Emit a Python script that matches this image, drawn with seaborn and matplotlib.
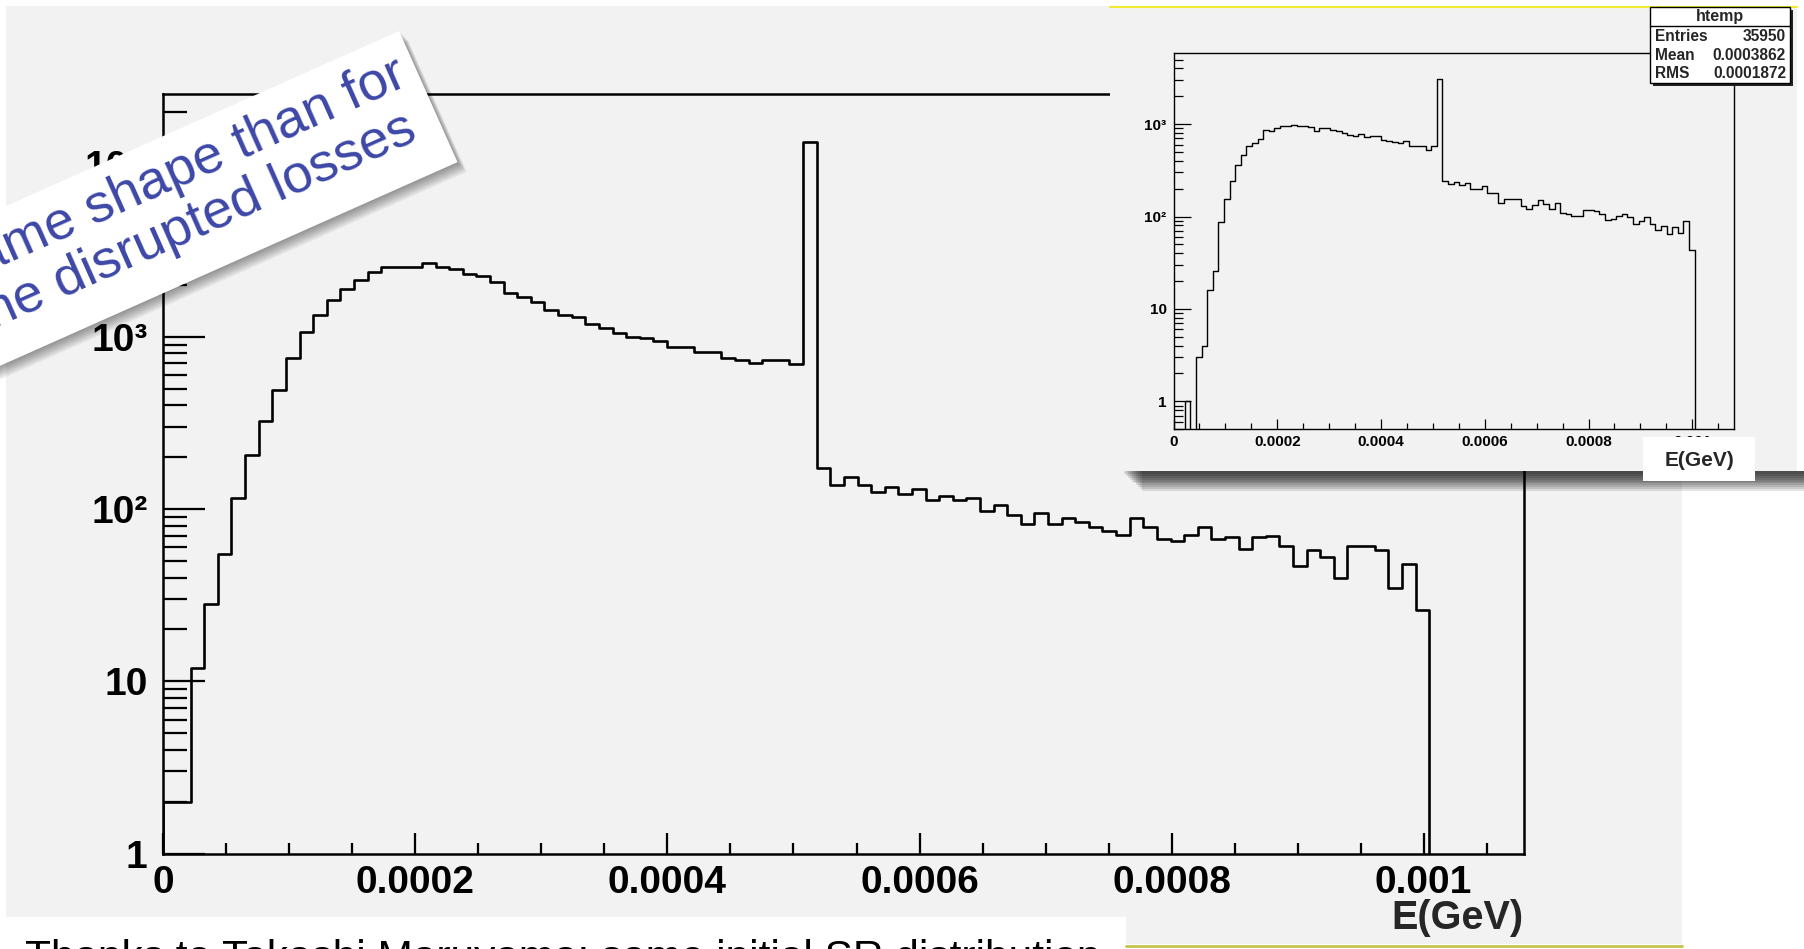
import numpy as np
import pandas as pd
import matplotlib
matplotlib.use("Agg")
import matplotlib.pyplot as plt
import seaborn as sns
from matplotlib.patches import Rectangle, Polygon
from matplotlib.lines import Line2D
from matplotlib.ticker import MultipleLocator, LogLocator, NullFormatter

# ---------------- data ----------------
bin_width = 1.08e-5          # GeV per bin (100 bins from 0 to 0.00108)
n_bins = 100

main_counts = [
    2, 2, 12, 28, 55, 116, 205, 326, 490, 751,
    1060, 1340, 1640, 1900, 2140, 2376, 2547, 2547, 2547, 2676,
    2530, 2460, 2310, 2240, 2070, 1790, 1690, 1597, 1420, 1340,
    1298, 1186, 1119, 1057, 1002, 980, 949, 869, 869, 820,
    820, 757, 733, 707, 733, 733, 695, 13400, 172, 137,
    154, 137, 126, 134, 122, 130, 113, 119, 113, 116,
    97, 106, 92, 82, 95, 82, 89, 84, 79, 75,
    71, 89, 79, 67, 65, 71, 79, 67, 69, 59,
    69, 70, 61, 47, 58, 53, 40, 61, 61, 58,
    35, 48, 26,
]

inset_counts = [
    0, 0, 1, 0, 3, 4, 16, 26, 88, 156,
    240, 365, 464, 575, 620, 690, 861, 834, 898, 944,
    944, 984, 944, 955, 920, 848, 905, 905, 861, 834,
    795, 768, 743, 774, 731, 743, 743, 673, 662, 635,
    620, 662, 575, 575, 575, 530, 575, 3050, 240, 226,
    236, 217, 231, 200, 200, 214, 180, 180, 140, 156,
    156, 156, 130, 122, 132, 150, 136, 122, 140, 110,
    107, 101, 101, 119, 117, 115, 107, 91, 95, 101,
    106, 99, 84, 90, 99, 84, 71, 79, 65, 77,
    66, 89, 43,
]

x_ticks = [0, 0.0002, 0.0004, 0.0006, 0.0008, 0.001]
x_tick_labels = ["0", "0.0002", "0.0004", "0.0006", "0.0008", "0.001"]
main_y_ticks = [1, 10, 100, 1000, 10000]
main_y_labels = ["1", "10", "10\u00b2", "10\u00b3", "10\u2074"]
inset_y_ticks = [1, 10, 100, 1000]
inset_y_labels = ["1", "10", "10\u00b2", "10\u00b3"]
x_title = "E(GeV)"
stats_title = "htemp"
stats_names = ["Entries", "Mean", "RMS"]
stats_values = ["35950", "0.0003862", "0.0001872"]
callout_lines = ["Same shape than for", "the disrupted losses"]
footer_text = "Thanks to Takashi Maruyama: same initial SR distribution"

# ---------------- style ----------------
sns.set_style("white")
plt.rcParams["font.family"] = ["Liberation Sans", "DejaVu Sans"]

W, H = 1804, 949
fig = plt.figure(figsize=(W / 100, H / 100), dpi=100)
fig.patch.set_facecolor("white")


def px_rect(x0, y0, x1, y1, **kw):
    r = Rectangle((x0 / W, 1 - y1 / H), (x1 - x0) / W, (y1 - y0) / H,
                  transform=fig.transFigure, **kw)
    fig.add_artist(r)
    return r


def px_line(xs, ys, **kw):
    ln = Line2D([x / W for x in xs], [1 - y / H for y in ys],
                transform=fig.transFigure, **kw)
    fig.add_artist(ln)
    return ln


def ax_rect(x0, y0, x1, y1):
    return [x0 / W, 1 - y1 / H, (x1 - x0) / W, (y1 - y0) / H]


def step_frame(counts, floor):
    c = np.asarray(counts, dtype=float)
    edges = np.arange(len(c) + 1) * bin_width
    xs = np.concatenate([[0.0], edges, [edges[-1]]])
    ys = np.concatenate([[0.0], c, [c[-1]], [0.0]])
    ys = np.where(ys > 0, ys, floor)
    return pd.DataFrame({"E": xs, "N": ys})


def style_axis(a, lw, xmaj, xmin, ymaj, ymin, xpad, ypad, fs):
    a.tick_params(axis="x", which="major", direction="in", length=xmaj,
                  width=lw * 0.9, pad=xpad, labelsize=fs, bottom=True)
    a.tick_params(axis="x", which="minor", direction="in", length=xmin,
                  width=lw * 0.9, bottom=True)
    a.tick_params(axis="y", which="major", direction="in", length=ymaj,
                  width=lw * 0.9, pad=ypad, labelsize=fs, left=True)
    a.tick_params(axis="y", which="minor", direction="in", length=ymin,
                  width=lw * 0.9, left=True)
    a.tick_params(which="both", top=False, right=False, colors="black")
    for lab in a.get_xticklabels() + a.get_yticklabels():
        lab.set_fontweight("bold")
    a.set_xlabel("")
    a.set_ylabel("")
    for s in a.spines.values():
        s.set_visible(True)
        s.set_linewidth(lw)
        s.set_color("black")


# ---------------- main canvas ----------------
px_rect(6, 6, 1682, 944, facecolor="#f2f2f2", edgecolor="none", zorder=-5)

ax = fig.add_axes(ax_rect(163.4, 94.3, 1524.4, 853.7))
ax.set_zorder(0)
ax.patch.set_alpha(0)
sns.lineplot(data=step_frame(main_counts, 1e-2), x="E", y="N", ax=ax,
             drawstyle="steps-post", estimator=None, sort=False,
             errorbar=None, color="black", linewidth=1.9)
ax.set_yscale("log")
ax.set_xlim(0, n_bins * bin_width)
ax.set_ylim(1, 25500)
ax.set_xticks(x_ticks, x_tick_labels)
ax.xaxis.set_minor_locator(MultipleLocator(0.00005))
ax.set_yticks(main_y_ticks, main_y_labels)
ax.yaxis.set_minor_locator(LogLocator(base=10, subs=np.arange(2, 10), numticks=30))
ax.yaxis.set_minor_formatter(NullFormatter())
style_axis(ax, 1.8, 15, 8, 30, 17, 8, 11.5, 28)
fig.text(1524 / W, 1 - 918 / H, x_title, ha="right", va="center",
         fontsize=28.5, fontweight="bold", zorder=1)

# ---------------- inset panel ----------------
px_rect(1110, 6, 1797, 471, facecolor="#f2f2f2", edgecolor="none", zorder=1)
for i in range(10):
    px_rect(1124 + 2 * i, 471, 1804, 472 + 1.9 * (i + 1), facecolor="black",
            edgecolor="none", alpha=0.11, zorder=1.1)
px_line([1110, 1797], [6.5, 6.5], color="#f0ea30", lw=1.5, zorder=1.2)

axi = fig.add_axes(ax_rect(1173.5, 52.9, 1733.8, 429.1))
axi.set_zorder(2)
axi.patch.set_alpha(0)
sns.lineplot(data=step_frame(inset_counts, 1e-2), x="E", y="N", ax=axi,
             drawstyle="steps-post", estimator=None, sort=False,
             errorbar=None, color="black", linewidth=1.0)
axi.set_yscale("log")
axi.set_xlim(0, n_bins * bin_width)
axi.set_ylim(0.5, 5900)
axi.set_xticks(x_ticks, x_tick_labels)
axi.xaxis.set_minor_locator(MultipleLocator(0.00005))
axi.set_yticks(inset_y_ticks, inset_y_labels)
axi.yaxis.set_minor_locator(LogLocator(base=10, subs=np.arange(2, 10), numticks=30))
axi.yaxis.set_minor_formatter(NullFormatter())
style_axis(axi, 1.0, 7, 4, 12, 6.5, 4, 5, 11)

# stats box
px_rect(1653, 10, 1793, 86, facecolor="#222222", edgecolor="none", zorder=3)
px_rect(1650, 7, 1790, 83, facecolor="white", edgecolor="black", lw=1.0, zorder=3.05)
px_line([1650, 1790], [25.5, 25.5], color="black", lw=1.0, zorder=3.1)
fig.text(1720 / W, 1 - 16.5 / H, stats_title, ha="center", va="center",
         fontsize=11.5, fontweight="bold", zorder=3.2)
for k, (nm, val) in enumerate(zip(stats_names, stats_values)):
    yy = 36.5 + 18.7 * k
    fig.text(1655 / W, 1 - yy / H, nm, ha="left", va="center",
             fontsize=11.2, fontweight="bold", zorder=3.2)
    fig.text(1786 / W, 1 - yy / H, val, ha="right", va="center",
             fontsize=11.2, fontweight="bold", zorder=3.2)

# inset axis title box
px_rect(1643, 437, 1755, 481, facecolor="white", edgecolor="none", zorder=3.3)
fig.text(1699 / W, 1 - 460 / H, x_title, ha="center", va="center",
         fontsize=15, fontweight="bold", zorder=3.4)

# ---------------- rotated callout ----------------
ang = 24.0
ca, sa = np.cos(np.radians(ang)), np.sin(np.radians(ang))


def uv(u, v):
    x = u * ca + v * sa
    y = -u * sa + v * ca
    return (x / W, 1 - y / H)


u0, u1, v0, v1 = -400, 352, 190.7, 334.2
for i in range(8):
    d = 1.5 + 1.6 * i
    poly = [uv(u0, v0 + d), uv(u1 + d * 0.35, v0 + d),
            uv(u1 + d * 0.35, v1 + d), uv(u0, v1 + d)]
    fig.add_artist(Polygon(poly, closed=True, transform=fig.transFigure,
                           facecolor="black", edgecolor="none",
                           alpha=0.055, zorder=5))
box = [uv(u0, v0), uv(u1, v0), uv(u1, v1), uv(u0, v1)]
fig.add_artist(Polygon(box, closed=True, transform=fig.transFigure,
                       facecolor="white", edgecolor="none", zorder=5.5))
for line, uend, vb in zip(callout_lines, [340, 326], [244, 298]):
    px, py = uv(uend, vb)
    fig.text(px, py, line, rotation=ang, rotation_mode="anchor",
             ha="right", va="baseline", fontsize=39,
             color="#3d47a6", family="Liberation Sans", zorder=6)

# ---------------- footer ----------------
px_rect(6, 917, 1126, 949, facecolor="white", edgecolor="none", zorder=7)
px_line([1126, 1682], [946, 946], color="#c4c44c", lw=2.0, zorder=7)
fig.text(25 / W, 1 - 970 / H, footer_text, ha="left", va="baseline",
         fontsize=30.5, color="black", family="Liberation Sans", zorder=7.5)

fig.savefig("out.png", dpi=100, facecolor="white")
